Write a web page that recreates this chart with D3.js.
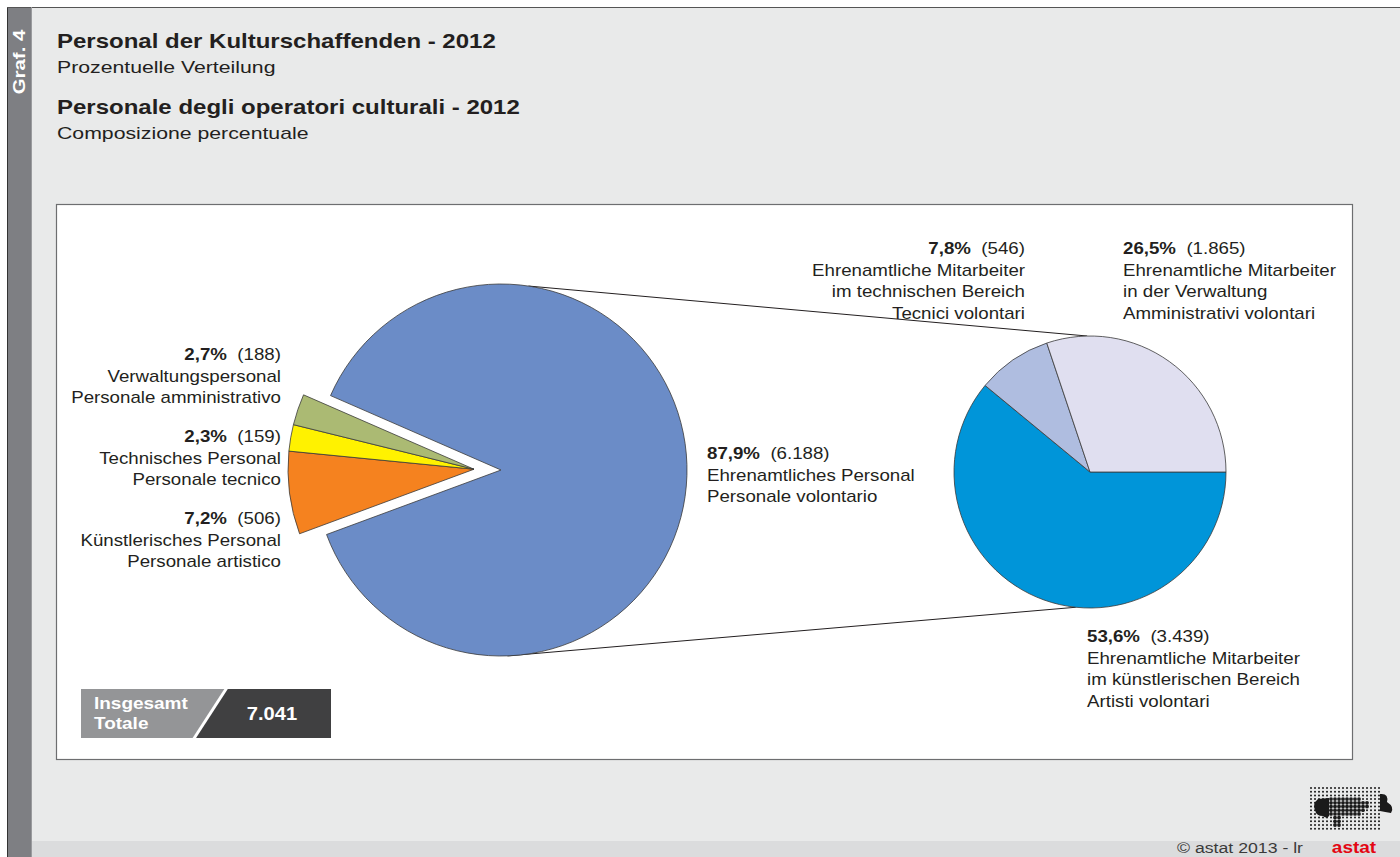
<!DOCTYPE html>
<html><head><meta charset="utf-8">
<script src="https://cdn.jsdelivr.net/npm/d3@7"></script>
<style>
html,body{margin:0;padding:0;background:#fff;}
svg{display:block;font-family:"Liberation Sans",Arial,sans-serif;}
</style></head>
<body>
<svg id="c" width="1400" height="857"></svg>
<script>
// ---------- data ----------
const mainCategories = ["Künstlerisches Personal", "Technisches Personal", "Verwaltungspersonal", "Ehrenamtliches Personal"];
const mainPercent = [7.2, 2.3, 2.7, 87.9];
const mainCounts = ["506", "159", "188", "6.188"];
const mainLabelsIt = ["Personale artistico", "Personale tecnico", "Personale amministrativo", "Personale volontario"];
const mainColors = ["#f5821f", "#fff200", "#abba73", "#6b8cc7"];

const subCategoriesA = ["Ehrenamtliche Mitarbeiter", "Ehrenamtliche Mitarbeiter", "Ehrenamtliche Mitarbeiter"];
const subCategoriesB = ["im künstlerischen Bereich", "im technischen Bereich", "in der Verwaltung"];
const subLabelsIt = ["Artisti volontari", "Tecnici volontari", "Amministrativi volontari"];
const subPercent = [53.6, 7.8, 26.5];
const subCounts = ["3.439", "546", "1.865"];
const subColors = ["#0095d9", "#afbde0", "#e0dff0"];

const totalValue = "7.041";
const fmtPct = v => d3.format(".1f")(v).replace(".", ",") + "%";

// ---------- helpers ----------
const svg = d3.select("#c");
function txt(parent, x, y, s, o) {
  o = o || {};
  return parent.append("text")
    .attr("transform", `translate(${x},${y}) scale(${o.sx || 1},1)`)
    .attr("text-anchor", o.anchor || "start")
    .attr("font-size", o.size || 16)
    .attr("font-weight", o.bold ? "bold" : "normal")
    .attr("fill", o.fill || "#231f20")
    .text(s);
}

// ---------- frame ----------
svg.append("rect").attr("x", 7).attr("y", 7).attr("width", 1393).attr("height", 850).attr("fill", "#e9eaea");
svg.append("rect").attr("x", 31).attr("y", 841).attr("width", 1369).attr("height", 16).attr("fill", "#dbdcdd");
svg.append("rect").attr("x", 7).attr("y", 7).attr("width", 24).attr("height", 850).attr("fill", "#7e7f83");
svg.append("line").attr("x1", 7.5).attr("x2", 7.5).attr("y1", 7).attr("y2", 857).attr("stroke", "#333").attr("stroke-width", 1);
svg.append("line").attr("x1", 7).attr("x2", 1400).attr("y1", 7.5).attr("y2", 7.5).attr("stroke", "#555").attr("stroke-width", 1);
svg.append("line").attr("x1", 31.5).attr("x2", 31.5).attr("y1", 7).attr("y2", 857).attr("stroke", "#9a9b9e").attr("stroke-width", 1);

svg.append("text").attr("transform", "translate(25,62) rotate(-90) scale(1.2,1)").attr("text-anchor", "middle")
  .attr("fill", "#fff").attr("font-weight", "bold").attr("font-size", 17).text("Graf. 4");

txt(svg, 57, 48, "Personal der Kulturschaffenden - 2012", {bold: true, size: 21, sx: 1.143});
txt(svg, 57, 73, "Prozentuelle Verteilung", {size: 17, sx: 1.25});
txt(svg, 57, 114, "Personale degli operatori culturali - 2012", {bold: true, size: 21, sx: 1.143});
txt(svg, 57, 139, "Composizione percentuale", {size: 17, sx: 1.25});

svg.append("rect").attr("x", 56.5).attr("y", 204.5).attr("width", 1296).attr("height", 555)
  .attr("fill", "#fff").attr("stroke", "#6d6e70").attr("stroke-width", 1.2);

// ---------- main pie ----------
const R = 186, cx = 501, cy = 470, explode = 27;
const deg = Math.PI / 180;
const startA = 249.7 * deg;
const pie = d3.pie().sort(null).value(d => d).startAngle(startA).endAngle(startA + 2 * Math.PI);
const mainArcs = pie(mainPercent);
const arc = d3.arc().innerRadius(0).outerRadius(R);

const smallMid = (mainArcs[0].startAngle + mainArcs[2].endAngle) / 2;
const ex = Math.sin(smallMid) * explode, ey = -Math.cos(smallMid) * explode;

const subC = {x: 1090, y: 472}, r2 = 136;

const pt = (c, r, a) => [c.x + r * Math.sin(a), c.y - r * Math.cos(a)];
const conn = [
  [pt({x: cx, y: cy}, R, 8.5 * deg), pt(subC, r2, -1.2 * deg)],
  [pt({x: cx, y: cy}, R, 178 * deg), pt(subC, r2, 186 * deg)]
];
svg.selectAll("line.conn").data(conn).join("line").attr("class", "conn")
  .attr("x1", d => d[0][0]).attr("y1", d => d[0][1]).attr("x2", d => d[1][0]).attr("y2", d => d[1][1])
  .attr("stroke", "#231f20").attr("stroke-width", 1);

svg.append("g").selectAll("path").data(mainArcs).join("path")
  .attr("transform", (d, i) => i < 3 ? `translate(${cx + ex},${cy + ey})` : `translate(${cx},${cy})`)
  .attr("d", arc).attr("fill", (d, i) => mainColors[i])
  .attr("stroke", "#3a3a3a").attr("stroke-width", 0.8).attr("stroke-linejoin", "round");

// ---------- sub pie ----------
const pie2 = d3.pie().sort(null).value(d => d).startAngle(Math.PI / 2).endAngle(Math.PI / 2 + 2 * Math.PI);
const arc2 = d3.arc().innerRadius(0).outerRadius(r2);
svg.append("g").attr("transform", `translate(${subC.x},${subC.y})`)
  .selectAll("path").data(pie2(subPercent)).join("path")
  .attr("d", arc2).attr("fill", (d, i) => subColors[i])
  .attr("stroke", "#3a3a3a").attr("stroke-width", 0.8).attr("stroke-linejoin", "round");

// ---------- labels ----------
const LS = 16.4, LX = 1.14;
function label(x, y, anchor, pct, cnt, lines) {
  const g = svg.append("g");
  const t = txt(g, x, y, "", {anchor, size: LS, sx: LX});
  t.append("tspan").attr("font-weight", "bold").text(fmtPct(pct));
  t.append("tspan").text("\u00a0 (" + cnt + ")");
  lines.forEach((s, i) => txt(g, x, y + 21.5 * (i + 1), s, {anchor, size: LS, sx: LX}));
}
label(281, 360, "end", mainPercent[2], mainCounts[2], [mainCategories[2], mainLabelsIt[2]]);
label(281, 442, "end", mainPercent[1], mainCounts[1], [mainCategories[1], mainLabelsIt[1]]);
label(281, 524, "end", mainPercent[0], mainCounts[0], [mainCategories[0], mainLabelsIt[0]]);
label(707, 459, "start", mainPercent[3], mainCounts[3], [mainCategories[3], mainLabelsIt[3]]);

label(1025, 254, "end", subPercent[1], subCounts[1], [subCategoriesA[1], subCategoriesB[1], subLabelsIt[1]]);
label(1123, 254, "start", subPercent[2], subCounts[2], [subCategoriesA[2], subCategoriesB[2], subLabelsIt[2]]);
label(1087, 642, "start", subPercent[0], subCounts[0], [subCategoriesA[0], subCategoriesB[0], subLabelsIt[0]]);

// ---------- total box ----------
svg.append("rect").attr("x", 81).attr("y", 689).attr("width", 250).attr("height", 49).attr("fill", "#404041");
svg.append("path").attr("d", "M81,689 L226,689 L193,738 L81,738 Z").attr("fill", "#949597");
svg.append("line").attr("x1", 228).attr("y1", 686).attr("x2", 193).attr("y2", 740).attr("stroke", "#fff").attr("stroke-width", 3);
txt(svg, 94, 709, "Insgesamt", {bold: true, size: 16.5, sx: 1.15, fill: "#fff"});
txt(svg, 94, 729, "Totale", {bold: true, size: 16.5, sx: 1.15, fill: "#fff"});
txt(svg, 272, 720, totalValue, {bold: true, size: 19, sx: 1.06, fill: "#fff", anchor: "middle"});

// ---------- footer ----------
txt(svg, 1303, 853, "©  astat 2013 - lr", {anchor: "end", size: 14.5, sx: 1.22, fill: "#3a3a3a"});
txt(svg, 1354, 853, "astat", {anchor: "middle", size: 17, sx: 1.12, bold: true, fill: "#e30613"});

// logo dots
const logo = svg.append("g");
const dots = [];
for (let gx = 0; gx < 18; gx++) for (let gy = 0; gy < 12; gy++) {
  const x = 1311 + gx * 4, y = 788 + gy * 3.7;
  const inBlob = ((x - 1345) / 24) ** 2 + ((y - 806) / 10) ** 2 < 1 || (Math.abs(x - 1337) < 6 && y > 806 && y < 826);
  dots.push({x, y, r: inBlob ? 1.9 : 1.0});
}
logo.selectAll("circle").data(dots).join("circle").attr("cx", d => d.x).attr("cy", d => d.y).attr("r", d => d.r).attr("fill", "#1a1a1a");
logo.append("path").attr("d", "M1318,799 q-6,5 -3,11 q1,6 8,6 q4,3 6,0 l0,-18 z").attr("fill", "#1a1a1a");
logo.append("path").attr("d", "M1380,794 q9,-1 7,8 q8,5 4,11 q-6,-1 -11,-2 z").attr("fill", "#1a1a1a");
</script>
</body></html>
